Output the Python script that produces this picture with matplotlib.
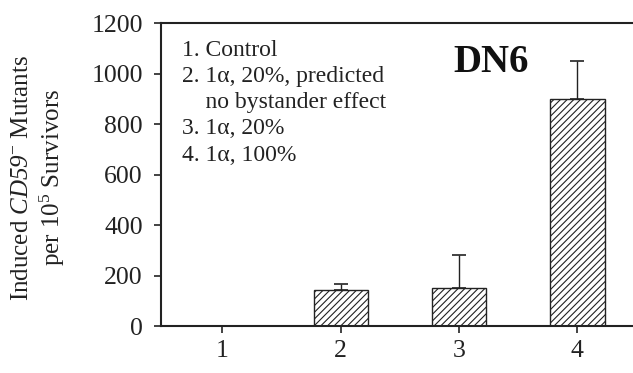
import matplotlib
matplotlib.use("Agg")
import matplotlib.pyplot as plt

plt.rcParams['font.family'] = ['Liberation Serif', 'DejaVu Serif']
plt.rcParams['mathtext.fontset'] = 'custom'
plt.rcParams['mathtext.rm'] = 'Liberation Serif'
plt.rcParams['mathtext.it'] = 'Liberation Serif:italic'
# italic digits: 'it' mode renders digits upright, so borrow the cal slot
plt.rcParams['mathtext.cal'] = 'Liberation Serif:italic'
plt.rcParams['hatch.linewidth'] = 0.8

# data
groups = [1, 2, 3, 4]
mutants = [0, 143, 150, 899]
err_up = [0, 23, 131, 151]
legend_lines = [
    "1. Control",
    "2. 1\u03b1, 20%, predicted",
    "    no bystander effect",
    "3. 1\u03b1, 20%",
    "4. 1\u03b1, 100%",
]

fig = plt.figure(figsize=(6.33, 3.73), dpi=100)
ax = fig.add_axes([0.2543, 0.126, 0.7457, 0.812])

ax.bar(groups, mutants, width=0.46, color='white', edgecolor='#222222',
       hatch='/////', linewidth=1.0, zorder=2)
ax.errorbar(groups[1:], mutants[1:], yerr=[[0] * 3, err_up[1:]], fmt='none',
            ecolor='#222222', elinewidth=1.0, capsize=5, capthick=1.2, zorder=1)

ax.set_xlim(0.48, 4.47)
ax.set_ylim(0, 1200)
ax.set_yticks(range(0, 1201, 200))
ax.set_xticks(groups)
ax.tick_params(axis='both', direction='out', length=5, width=1.2, labelsize=18.5, colors='#222222')
ax.tick_params(axis='y', pad=8)
ax.tick_params(axis='x', pad=5)
for s in ['left', 'bottom', 'top']:
    ax.spines[s].set_linewidth(1.5)
    ax.spines[s].set_color('#222222')
ax.spines['right'].set_visible(False)

ax.set_ylabel("Induced $\\mathcal{CD59}^{-}$ Mutants\nper 10$^5$ Survivors",
              fontsize=18, linespacing=1.2, color='#222222')
ax.yaxis.set_label_coords(-0.199, 0.49)

ax.text(0.045, 0.944, "\n".join(legend_lines), transform=ax.transAxes,
        fontsize=17, va='top', ha='left', linespacing=1.32, color='#222222')
ax.text(0.699, 0.87, "DN6", transform=ax.transAxes, fontsize=28,
        fontweight='bold', ha='center', va='center', color='#111111')

fig.savefig("out.png", dpi=100)
